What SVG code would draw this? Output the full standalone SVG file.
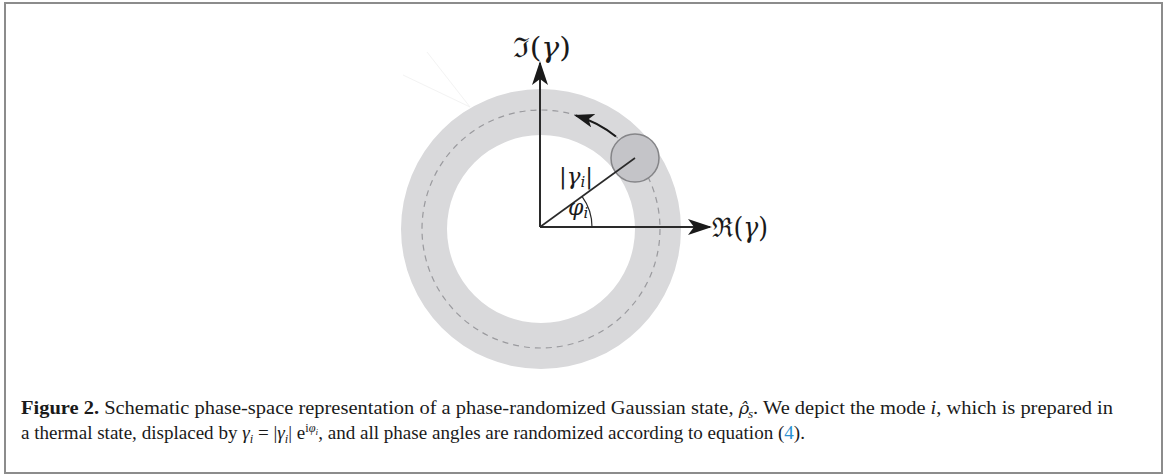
<svg xmlns="http://www.w3.org/2000/svg" width="1168" height="475" viewBox="0 0 1168 475">
<defs>
<marker id="ah" viewBox="0 0 24 16" refX="22" refY="8" markerWidth="24" markerHeight="16" markerUnits="userSpaceOnUse" orient="auto">
<path d="M0,0 L24,8 L0,16 L6,8 Z" fill="#1a1a1a"/>
</marker>
<marker id="ah2" viewBox="0 0 20 14" refX="18" refY="7" markerWidth="20" markerHeight="14" markerUnits="userSpaceOnUse" orient="auto">
<path d="M0,0 L20,7 L0,14 L5,7 Z" fill="#1a1a1a"/>
</marker>
<style>
.math{font-family:"DejaVu Serif","Liberation Serif",serif;fill:#1a1a1a}
.cap{font-family:"Liberation Serif","DejaVu Serif",serif;font-size:18.5px;fill:#1a1a1a}
.ax{stroke:#2a2a2a;stroke-width:2;fill:none}
</style>
</defs>
<rect x="5" y="3" width="1157" height="470" fill="#fff" stroke="#8c8c8c" stroke-width="2"/>
<g id="ring">
<path d="M401,229 a140,140 0 1,0 280,0 a140,140 0 1,0 -280,0 Z M447,229 a94,94 0 1,1 188,0 a94,94 0 1,1 -188,0 Z" fill="#d9d9db" fill-rule="evenodd"/>
<circle cx="541" cy="229" r="119" fill="none" stroke="#9a9a9e" stroke-width="1.2" stroke-dasharray="6,5"/>
</g>
<g id="faint" stroke="#f3f3f3" stroke-width="1" fill="none">
<path d="M427,52 L470,107 M403,75 L470,107"/>
</g>
<g id="mode">
<circle cx="635" cy="158" r="24" fill="#c4c4c8" stroke="#858588" stroke-width="1.5"/>
</g>
<g id="connectors">
<line class="ax" x1="540" y1="227" x2="540" y2="63" marker-end="url(#ah)"/>
<line class="ax" x1="540" y1="227" x2="710" y2="227" marker-end="url(#ah)"/>
<line x1="540" y1="227" x2="635" y2="158" stroke="#2a2a2a" stroke-width="1.6"/>
<path d="M592,227 A52,52 0 0,0 582,196.4" fill="none" stroke="#2a2a2a" stroke-width="1.2"/>
<path d="M615.9,136.5 A119,119 0 0,0 576,115.5" fill="none" stroke="#1a1a1a" stroke-width="2" marker-end="url(#ah2)"/>
</g>
<g id="labels">
<text class="math" x="542" y="57" font-size="27" text-anchor="middle" textLength="58" lengthAdjust="spacingAndGlyphs">ℑ(<tspan font-style="italic">γ</tspan>)</text>
<text class="math" x="712" y="237" font-size="27" textLength="56" lengthAdjust="spacingAndGlyphs">ℜ(<tspan font-style="italic">γ</tspan>)</text>
<text class="math" x="559" y="184" font-size="23">|<tspan font-style="italic">γ</tspan><tspan font-style="italic" font-size="15" dy="3">i</tspan><tspan dy="-3">|</tspan></text>
<text class="math" x="568" y="215" font-size="22" font-style="italic">φ<tspan font-size="15" dy="3">i</tspan></text>
</g>
<g id="caption">
<text class="cap" x="21" y="414" textLength="1092" lengthAdjust="spacingAndGlyphs"><tspan font-weight="bold">Figure 2.</tspan> Schematic phase-space representation of a phase-randomized Gaussian state,  <tspan font-style="italic" font-family="DejaVu Serif" font-size="16">ρ̂</tspan><tspan font-style="italic" font-size="12" dx="-1" dy="4">s</tspan><tspan dy="-4">. We depict the mode </tspan><tspan font-style="italic">i</tspan>, which is prepared in</text>
<text class="cap" x="21" y="439" textLength="784" lengthAdjust="spacingAndGlyphs">a thermal state, displaced by <tspan font-style="italic">γ</tspan><tspan font-style="italic" font-size="12" dy="4">i</tspan><tspan dy="-4"> = |</tspan><tspan font-style="italic">γ</tspan><tspan font-style="italic" font-size="12" dy="4">i</tspan><tspan dy="-4">| e</tspan><tspan font-size="12" dy="-7">i</tspan><tspan font-size="12" font-style="italic">φ</tspan><tspan font-size="9" font-style="italic" dy="3">i</tspan><tspan dy="4">, and all phase angles are randomized according to equation (</tspan><tspan fill="#2a8fd0">4</tspan>).</text>
</g>
</svg>
